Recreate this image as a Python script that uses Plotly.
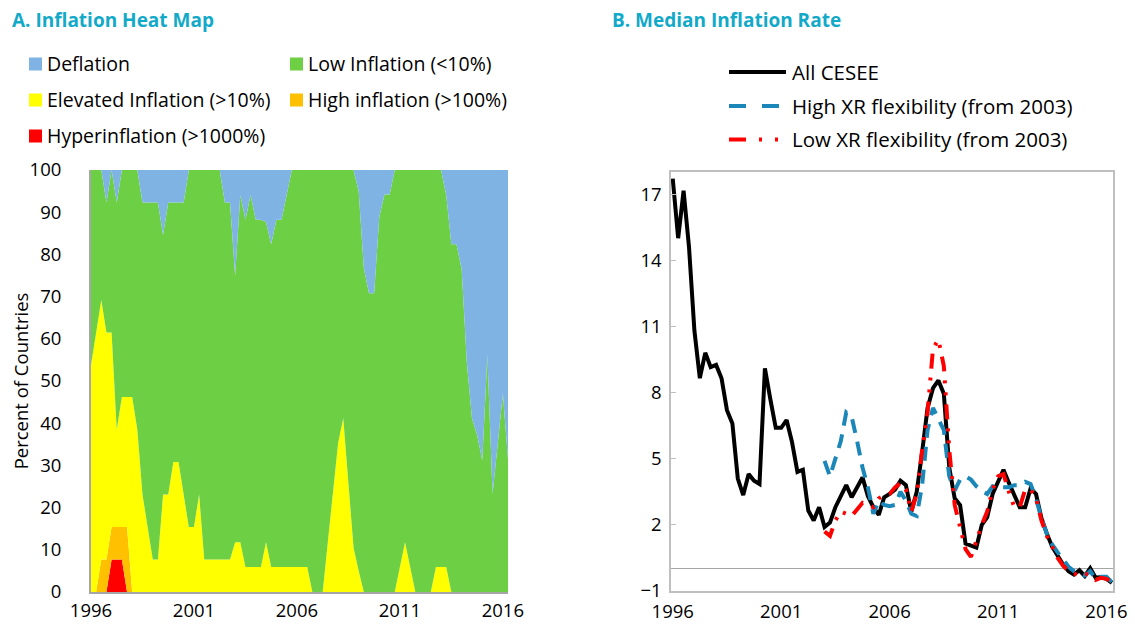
import plotly.graph_objects as go

# ---------------- data ----------------
quarters = [1996 + i / 4 for i in range(82)]  # 1996Q1 .. 2016Q2
year_ticks = [1996, 2001, 2006, 2011, 2016]

# Panel A: share of countries (percent) by inflation regime
hyper = [0, 0, 0, 0, 7.7, 7.7, 7.7] + [0] * 75
high = [0, 0, 7.7, 7.7, 7.7, 7.7, 7.7, 15.4] + [0] * 74
elevated = [53.8, 61.5, 61.5, 53.8, 46.1, 23.1, 30.8, 30.8, 46.2, 38.5,
            23.1, 15.4, 7.7, 7.7, 23.1, 23.1, 30.8, 30.8, 23.1, 15.4,
            15.4, 23.1, 7.7, 7.7, 7.7, 7.7, 7.7, 7.7, 11.8, 11.8,
            5.9, 5.9, 5.9, 5.9, 11.8, 5.9, 5.9, 5.9, 5.9, 5.9,
            5.9, 5.9, 5.9, 0, 0, 0, 11.8, 23.5, 35.3, 41.2,
            25.5, 10.5, 5.0, 0, 0, 0, 0, 0, 0, 0,
            5.9, 11.8, 5.9, 0, 0, 0, 0, 5.9, 5.9, 5.9,
            0, 0, 0, 0, 0, 0, 0, 0, 0, 0, 0, 0]
deflation = [0, 0, 0, 7.7, 0, 7.7, 0, 0, 0, 0,
             7.7, 7.7, 7.7, 7.7, 15.4, 7.7, 7.7, 7.7, 7.7, 0,
             0, 0, 0, 0, 0, 0, 7.7, 7.7, 25.0, 5.9,
             11.8, 5.9, 11.8, 11.8, 12.3, 17.6, 11.8, 11.8, 5.9, 0,
             0, 0, 0, 0, 0, 0, 0, 0, 0, 0,
             0, 0, 5.1, 23.3, 29.2, 29.2, 11.1, 5.8, 5.8, 0,
             0, 0, 0, 0, 0, 0, 0, 0, 0, 5.9,
             17.6, 17.6, 23.5, 45.5, 58.8, 62.8, 68.8, 43.9, 76.7, 65.0,
             53.0, 68.4]
low = [round(100 - a - b - c - d, 1) for a, b, c, d in zip(hyper, high, elevated, deflation)]

# Panel B: median inflation rate (percent)
all_cesee = [17.7, 15.0, 17.15, 14.6, 10.8, 8.65, 9.8, 9.15, 9.25, 8.65,
             7.2, 6.6, 4.1, 3.35, 4.3, 4.0, 3.85, 9.1, 7.7, 6.4,
             6.4, 6.75, 5.75, 4.4, 4.5, 2.65, 2.2, 2.8, 1.9, 2.1,
             2.8, 3.35, 3.8, 3.25, 3.7, 4.15, 3.3, 2.8, 2.45, 3.25,
             3.4, 3.6, 4.0, 3.8, 2.6, 3.5, 5.3, 7.3, 8.2, 8.55,
             7.95, 4.6, 3.2, 2.9, 1.15, 1.05, 0.97, 2.0, 2.35, 3.4,
             4.0, 4.5, 3.9, 3.3, 2.8, 2.8, 3.65, 3.4, 2.3, 1.6,
             1.0, 0.6, 0.2, -0.1, -0.25, -0.06, -0.32, 0.03, -0.4, -0.37,
             -0.45, -0.63]
high_xr = [None] * 28 + [
    4.9, 4.2, 5.0, 5.8, 7.1, 6.9, 5.8, 4.6, 3.7, 2.5,
    3.1, 2.9, 2.85, 2.9, 3.5, 3.1, 2.5, 2.4, 3.8, 6.3,
    7.3, 6.8, 6.3, 4.2, 3.55, 4.05, 4.2, 4.05, 3.75, 3.55,
    3.4, 3.75, 3.7, 3.7, 3.7, 3.8, 3.8, 3.95, 3.85, 3.2,
    2.3, 1.6, 1.1, 0.75, 0.4, 0.1, -0.1, -0.2, -0.3, -0.1,
    -0.45, -0.35, -0.35, -0.6]
low_xr = [None] * 28 + [
    1.7, 1.5, 2.2, 2.6, 2.5, 2.4, 2.7, 3.0, 2.9, 2.8,
    3.2, 3.35, 3.4, 3.7, 3.9, 3.6, 2.6, 3.4, 5.4, 7.1,
    10.0, 10.4, 9.2, 5.4, 2.9, 1.9, 0.9, 0.55, 1.3, 2.0,
    2.6, 3.6, 4.2, 4.3, 3.5, 2.8, 2.8, 3.6, 3.6, 3.2,
    2.2, 1.5, 1.0, 0.5, 0.15, -0.1, -0.2, -0.3, -0.2, -0.3,
    -0.5, -0.4, -0.45, -0.6]
b_ticks = [-1, 2, 5, 8, 11, 14, 17]

area_names = ["Hyperinflation (>1000%)", "High inflation (>100%)",
              "Elevated Inflation (>10%)", "Low Inflation (<10%)", "Deflation"]
area_colors = ["#FF0000", "#FFC000", "#FFFF00", "#6DD044", "#7EB3E4"]
line_names = ["All CESEE", "High XR flexibility (from 2003)", "Low XR flexibility (from 2003)"]

# ---------------- figure ----------------
OFF = 8                      # default page body margin
W, H = 1135 - OFF, 637 - OFF
FONT = "Open Sans"
TEAL = "#13A9C8"
BLUE = "#1A87B8"
BLUE_DASH = "14px,9px"
RED_DASH = "15px,9px,3px,9px,3px,9px"
TICK_SIZE = 18.5
LEG_A_SIZE = 19.5
LEG_B_SIZE = 20.5


def px(x):
    return (x - OFF) / W


def py(y):
    return 1 - (y - OFF) / H


fig = go.Figure()

for name, vals, col in zip(area_names, [hyper, high, elevated, low, deflation], area_colors):
    fig.add_trace(go.Scatter(
        x=quarters, y=vals, name=name, stackgroup="a", mode="lines",
        line=dict(width=0, color=col), fillcolor=col, showlegend=False,
        xaxis="x", yaxis="y"))

fig.add_trace(go.Scatter(x=quarters, y=all_cesee, name=line_names[0], mode="lines",
                         line=dict(color="#000000", width=4), showlegend=False,
                         xaxis="x2", yaxis="y2"))
fig.add_trace(go.Scatter(x=quarters, y=high_xr, name=line_names[1], mode="lines",
                         line=dict(color=BLUE, width=4, dash=BLUE_DASH),
                         showlegend=False, xaxis="x2", yaxis="y2"))
fig.add_trace(go.Scatter(x=quarters, y=low_xr, name=line_names[2], mode="lines",
                         line=dict(color="#FF0000", width=4, dash=RED_DASH),
                         showlegend=False, xaxis="x2", yaxis="y2"))

tickfont = dict(family=FONT, size=TICK_SIZE, color="#000000")

fig.update_layout(
    width=W, height=H, margin=dict(l=0, r=0, t=0, b=0, autoexpand=False),
    paper_bgcolor="white", plot_bgcolor="white",
    font=dict(family=FONT, size=TICK_SIZE, color="#000000"),
    xaxis=dict(domain=[px(91), px(508)], range=[1996, 2016.25],
               tickvals=year_ticks, ticktext=[str(y) for y in year_ticks],
               showline=True, linecolor="#A6A6A6", linewidth=2,
               showgrid=False, zeroline=False, ticks="", tickfont=tickfont,
               ticklabelstandoff=1, automargin=False, anchor="y"),
    yaxis=dict(domain=[py(592), py(170)], range=[0, 100], dtick=10,
               showline=True, linecolor="#A6A6A6", linewidth=2,
               showgrid=False, zeroline=False, ticks="", tickfont=tickfont,
               ticklabelstandoff=24, automargin=False,
               title=dict(text="Percent of Countries", font=dict(family=FONT, size=TICK_SIZE),
                          standoff=8),
               anchor="x"),
    xaxis2=dict(domain=[px(671), px(1113)], range=[1995.92, 2016.3],
                tickvals=year_ticks, ticktext=[str(y) for y in year_ticks],
                showline=True, mirror=True, linecolor="#BFBFBF", linewidth=1.5,
                showgrid=False, zeroline=False, ticks="", tickfont=tickfont,
                ticklabelstandoff=3, automargin=False, anchor="y2"),
    yaxis2=dict(domain=[py(591), py(172)], range=[-1, 18], tickvals=b_ticks,
                showline=True, mirror=True, linecolor="#BFBFBF", linewidth=1.5,
                showgrid=False, zeroline=True, zerolinecolor="#A6A6A6", zerolinewidth=1,
                ticks="inside", ticklen=5, tickcolor="#BFBFBF", tickfont=tickfont,
                ticklabelstandoff=4, automargin=False, anchor="x2"),
)

annotations = [
    dict(text="<b>A. Inflation Heat Map</b>", x=px(10), y=py(20), xanchor="left",
         yanchor="middle", font=dict(family=FONT, size=19, color=TEAL)),
    dict(text="<b>B. Median Inflation Rate</b>", x=px(610), y=py(20), xanchor="left",
         yanchor="middle", font=dict(family=FONT, size=19, color=TEAL)),
]
shapes = []

# Panel A legend (two columns)
legend_a = [("Deflation", area_colors[4], 29, 64), ("Low Inflation (<10%)", area_colors[3], 290, 64),
            ("Elevated Inflation (>10%)", area_colors[2], 29, 100),
            ("High inflation (>100%)", area_colors[1], 290, 100),
            ("Hyperinflation (>1000%)", area_colors[0], 29, 136)]
for text, col, x0, yc in legend_a:
    shapes.append(dict(type="rect", xref="paper", yref="paper",
                       x0=px(x0), x1=px(x0 + 13), y0=py(yc + 6.5), y1=py(yc - 6.5),
                       fillcolor=col, line=dict(width=0)))
    annotations.append(dict(text=text, x=px(x0 + 16), y=py(yc), xanchor="left", yanchor="middle",
                            font=dict(family=FONT, size=LEG_A_SIZE, color="#000000")))

# Panel B legend
legend_b = [(line_names[0], "#000000", "solid", 72),
            (line_names[1], BLUE, "17px,16px", 106),
            (line_names[2], "#FF0000", "17px,13px,3px,13px,3px,13px", 139.5)]
for text, col, dash, yc in legend_b:
    shapes.append(dict(type="line", xref="paper", yref="paper",
                       x0=px(729), x1=px(786), y0=py(yc), y1=py(yc),
                       line=dict(color=col, width=4, dash=dash)))
    annotations.append(dict(text=text, x=px(790), y=py(yc), xanchor="left", yanchor="middle",
                            font=dict(family=FONT, size=LEG_B_SIZE, color="#000000")))

for a in annotations:
    a.update(xref="paper", yref="paper", showarrow=False)
fig.update_layout(annotations=annotations, shapes=shapes)

fig.write_html("out.html")
